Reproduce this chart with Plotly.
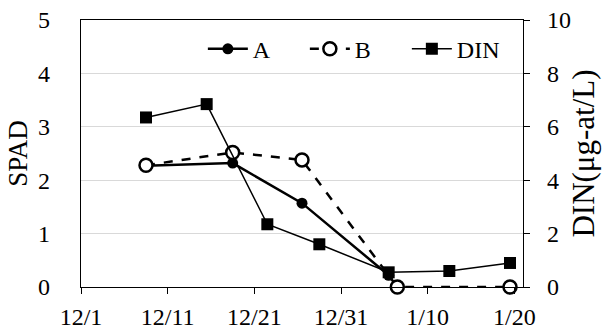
import pandas as pd
import plotly.graph_objects as go

# ---- data ----
a_dates = ["2020-12-08", "2020-12-18", "2020-12-26", "2021-01-05"]
a_spad = [2.27, 2.32, 1.57, 0.22]

b_dates = ["2020-12-08", "2020-12-18", "2020-12-26", "2021-01-06", "2021-01-19"]
b_spad = [2.28, 2.52, 2.38, 0.0, 0.0]

din_dates = ["2020-12-08", "2020-12-15", "2020-12-22", "2020-12-28",
             "2021-01-05", "2021-01-12", "2021-01-19"]
din_vals = [6.35, 6.85, 2.35, 1.6, 0.55, 0.6, 0.9]

tick_dates = ["2020-12-01", "2020-12-11", "2020-12-21", "2020-12-31",
              "2021-01-10", "2021-01-20"]
tick_labels = ["12/1", "12/11", "12/21", "12/31", "1/10", "1/20"]

# Excel date axis places each day's point in the middle of the day cell
half_day = pd.Timedelta(hours=12)
def centered(ds):
    return [pd.Timestamp(d) + half_day for d in ds]

FONT = "Liberation Serif"
TICK = 24

fig = go.Figure()
fig.add_trace(go.Scatter(
    x=centered(a_dates), y=a_spad, name="A", mode="lines+markers",
    line=dict(color="black", width=2.5),
    marker=dict(symbol="circle", size=11, color="black"),
))
fig.add_trace(go.Scatter(
    x=centered(b_dates), y=b_spad, name="B", mode="lines+markers",
    line=dict(color="black", width=2.5, dash="dash"),
    marker=dict(symbol="circle", size=13, color="white",
                line=dict(color="black", width=2.5)),
    cliponaxis=False,
))
fig.add_trace(go.Scatter(
    x=centered(din_dates), y=din_vals, name="DIN", mode="lines+markers",
    yaxis="y2",
    line=dict(color="black", width=1.5),
    marker=dict(symbol="square", size=12, color="black"),
    cliponaxis=False,
))

fig.update_layout(
    width=606, height=333,
    margin=dict(l=81, r=83, t=20, b=46, autoexpand=False),
    paper_bgcolor="white", plot_bgcolor="white",
    font=dict(family=FONT, size=TICK, color="black"),
    showlegend=True,
    legend=dict(orientation="h", x=0.968, xanchor="right", y=0.975, yanchor="top",
                bgcolor="rgba(0,0,0,0)", font=dict(size=TICK), itemwidth=40,
                entrywidth=47, tracegroupgap=0),
    xaxis=dict(
        range=[pd.Timestamp("2020-12-01"), pd.Timestamp("2021-01-21")],
        tickmode="array", tickvals=[pd.Timestamp(d) for d in tick_dates],
        ticktext=tick_labels, automargin=False,
        showgrid=False, zeroline=False,
        showline=True, linecolor="black", linewidth=1.3, mirror=True,
        ticks="outside", ticklen=6, tickcolor="black",
        tickfont=dict(size=TICK), ticklabelstandoff=2,
    ),
    yaxis=dict(
        range=[0, 5], dtick=1, automargin=False,
        title=dict(text="SPAD", font=dict(size=27), standoff=2),
        showgrid=True, gridcolor="#d9d9d9", gridwidth=1.2, zeroline=False,
        showline=True, linecolor="black", linewidth=1.3,
        ticks="", tickfont=dict(size=TICK), ticklabelstandoff=25,
    ),
    yaxis2=dict(
        range=[0, 10], dtick=2, overlaying="y", side="right", automargin=False,
        title=dict(text="DIN(μg-at/L)", font=dict(size=31), standoff=2),
        showgrid=False, zeroline=False,
        showline=True, linecolor="black", linewidth=1.3,
        ticks="outside", ticklen=6, tickcolor="black",
        tickfont=dict(size=TICK), ticklabelstandoff=12,
    ),
)

fig.write_html("out.html")
